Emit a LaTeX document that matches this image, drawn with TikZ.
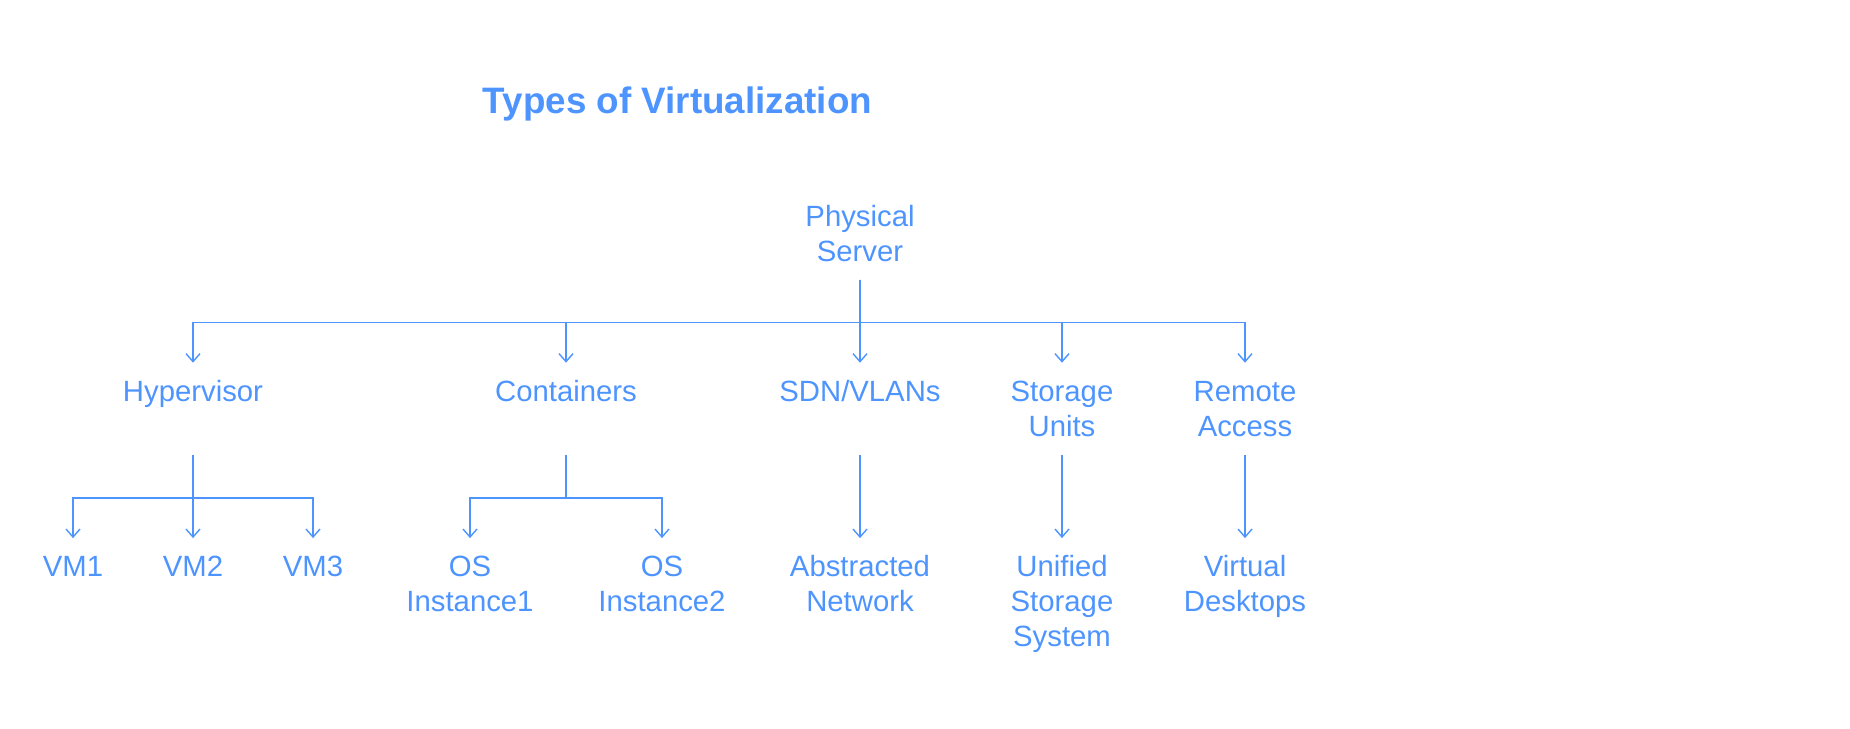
\documentclass[tikz,border=0pt]{standalone}
\usepackage{fontspec}
\setmainfont{Liberation Sans}
\usepackage{tikz}
\usetikzlibrary{positioning,arrows.meta}
\definecolor{vblue}{HTML}{4D94FF}

\begin{document}
\begin{tikzpicture}[x=0.5pt,y=-0.5pt,>={Straight Barb[length=4pt,width=7pt]},line width=0.7pt,draw=vblue,node distance=41.5pt,every node/.style={text=vblue,align=center,inner sep=0pt,text height=19pt,text depth=26.5pt,font=\fontsize{14.65pt}{17.5pt}\selectfont},two/.style={text height=36.5pt,text depth=9pt},three/.style={text height=54pt,text depth=0pt},]
	\useasboundingbox (0,0) rectangle (1850,728);
	% create the nodes
	\node (ps) [two,anchor=base] at (860,261) {Physical\\Server};
	\node (hyp) [below =of ps,xshift=-333.5pt] {Hypervisor};
	\node (con) [below =of ps,xshift=-147pt] {Containers};
	\node (sdn) [below =of ps] {SDN/VLANs};
	\node (st) [two,below =of ps,xshift=101pt] {Storage\\Units};
	\node (ra) [two,below =of ps,xshift=192.5pt] {Remote\\Access};
	\node (vm1) [below =of hyp,xshift=-60pt] {VM1};
	\node (vm2) [below =of hyp] {VM2};
	\node (vm3) [below =of hyp,xshift=60pt] {VM3};
	\node (os1) [two,below =of con,xshift=-48pt] {OS\\Instance1};
	\node (os2) [two,below =of con,xshift=48pt] {OS\\Instance2};
	\node (an) [two,below =of sdn] {Abstracted\\Network};
	\node (uss) [three,below =of st] {Unified\\Storage\\System};
	\node (vd) [two,below =of ra] {Virtual\\Desktops};
	
	% connect the nodes
	\draw[->] (ps.south) -- ++(0,-21.5pt) -| (hyp.north);
	\draw[->] (ps.south) -- ++(0,-21.5pt) -| (con.north);
	\draw[->] (ps.south) to (sdn.north);
	\draw[->] (ps.south) -- ++(0,-21.5pt) -| (st.north);
	\draw[->] (ps.south) -- ++(0,-21.5pt) -| (ra.north);
	\draw[->] (hyp.south) -- ++(0,-21.5pt) -| (vm1.north);
	\draw[->] (hyp.south) to (vm2.north);
	\draw[->] (hyp.south) -- ++(0,-21.5pt) -| (vm3.north);
	\draw[->] (con.south) -- ++(0,-21.5pt) -| (os1.north);
	\draw[->] (con.south) -- ++(0,-21.5pt) -| (os2.north);
	\draw[->] (sdn.south) to (an.north);
	\draw[->] (st.south) to (uss.north);
	\draw[->] (ra.south) to (vd.north);
	
	\node (title) [anchor=base,font=\bfseries\fontsize{18.4pt}{22pt}\selectfont] at (677.5,113) {Types of Virtualization};
\end{tikzpicture}
\end{document}
